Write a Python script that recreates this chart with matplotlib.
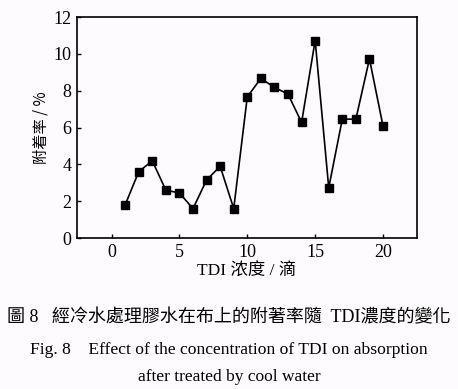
import matplotlib.pyplot as plt

plt.rcParams['font.family'] = ['Liberation Serif', 'Noto Sans CJK TC', 'DejaVu Sans']

# TDI 浓度 (滴) 与附着率 (%)
tdi = [1, 2, 3, 4, 5, 6, 7, 8, 9, 10, 11, 12, 13, 14, 15, 16, 17, 18, 19, 20]
rate = [1.8, 3.6, 4.2, 2.6, 2.45, 1.6, 3.15, 3.9, 1.6, 7.67,
        8.67, 8.18, 7.82, 6.28, 10.73, 2.73, 6.46, 6.46, 9.73, 6.08]
xticks = [0, 5, 10, 15, 20]
yticks = [0, 2, 4, 6, 8, 10, 12]

bg = '#fdfbfd'
fig = plt.figure(figsize=(4.58, 3.89), dpi=100, facecolor=bg)
ax = fig.add_axes([0.168, 0.388, 0.7424, 0.568], facecolor=bg)

ax.plot(tdi, rate, color='black', linewidth=1.2, marker='s', markersize=6)

ax.set_xlim(-2.55, 22.5)
ax.set_ylim(0, 12)
ax.set_xticks(xticks)
ax.set_yticks(yticks)
ax.tick_params(direction='in', length=3, width=1, labelsize=13, pad=4)
for s in ax.spines.values():
    s.set_linewidth(1.2)

ax.set_xlabel('TDI 浓度 / 滴', fontsize=12.5, labelpad=2,
              family=['Liberation Serif', 'Noto Sans CJK SC'])
ax.set_ylabel('附着率 / %', fontsize=11, labelpad=3,
              family=['Noto Sans CJK SC', 'Liberation Serif'])

fig.text(0.5, 1 - 318 / 389, '圖 8   經冷水處理膠水在布上的附著率隨  TDI濃度的變化',
         ha='center', va='center', fontsize=13,
         family=['Liberation Serif', 'Noto Sans CJK TC'])
fig.text(0.5, 1 - 350 / 389, 'Fig. 8    Effect of the concentration of TDI on absorption',
         ha='center', va='center', fontsize=12.6)
fig.text(0.5, 1 - 377 / 389, 'after treated by cool water',
         ha='center', va='center', fontsize=12.5)

plt.savefig('out.png', dpi=100, facecolor=bg)
